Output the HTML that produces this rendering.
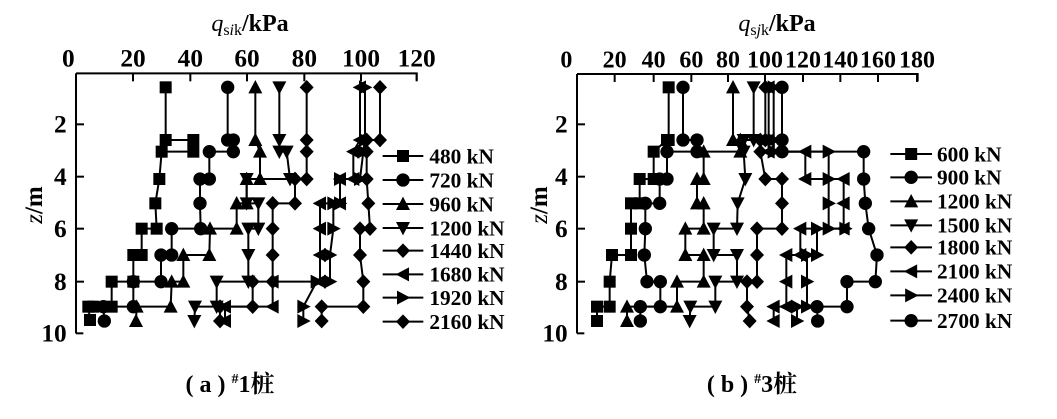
<!DOCTYPE html>
<html><head><meta charset="utf-8">
<style>
html,body{margin:0;padding:0;background:#fff;width:1057px;height:419px;overflow:hidden}
svg{display:block}
text{font-family:"Liberation Serif","Noto Serif CJK SC",serif;font-weight:bold;fill:#000}
</style></head><body>
<svg id="s" width="1057" height="419" viewBox="0 0 1057 419" xmlns="http://www.w3.org/2000/svg">
<g id="L" transform="scale(0.3333333)"></g>
<g id="R" transform="translate(527,0) scale(0.3333333)"></g>
<g>
<text x="250" y="31" font-size="24" text-anchor="middle"><tspan font-style="italic" font-weight="normal">q</tspan><tspan font-size="16" dy="4" font-weight="normal">s<tspan font-style="italic">i</tspan>k</tspan><tspan dy="-4">/kPa</tspan></text>
<text x="777" y="31" font-size="24" text-anchor="middle"><tspan font-style="italic" font-weight="normal">q</tspan><tspan font-size="16" dy="4" font-weight="normal">s<tspan font-style="italic">j</tspan>k</tspan><tspan dy="-4">/kPa</tspan></text>
<text transform="translate(42,205) rotate(-90)" font-size="25" text-anchor="middle"><tspan font-style="italic" font-weight="normal">z</tspan>/m</text>
<text x="230" y="392" font-size="24" text-anchor="middle">( a ) <tspan font-size="14" dy="-9">#</tspan><tspan dy="9">1桩</tspan></text>
<text x="752" y="392" font-size="24" text-anchor="middle">( b ) <tspan font-size="14" dy="-9">#</tspan><tspan dy="9">3桩</tspan></text>
</g>
</svg>
<script>
const NS="http://www.w3.org/2000/svg";
function el(p,t,a,txt){const e=document.createElementNS(NS,t);for(const k in a)e.setAttribute(k,a[k]);if(txt!==undefined)e.textContent=txt;p.appendChild(e);return e;}
function marker(g,type,x,y){const s=18;
 if(type=='sq')el(g,'rect',{x:x-s,y:y-s,width:2*s,height:2*s});
 else if(type=='ci')el(g,'circle',{cx:x,cy:y,r:s+2});
 else if(type=='up')el(g,'polygon',{points:`${x},${y-s-4} ${x-s-3},${y+s} ${x+s+3},${y+s}`});
 else if(type=='dn')el(g,'polygon',{points:`${x},${y+s+4} ${x-s-3},${y-s} ${x+s+3},${y-s}`});
 else if(type=='di')el(g,'polygon',{points:`${x},${y-s-4} ${x+s+3},${y} ${x},${y+s+4} ${x-s-3},${y}`});
 else if(type=='le')el(g,'polygon',{points:`${x-s-4},${y} ${x+s},${y-s-3} ${x+s},${y+s+3}`});
 else if(type=='ri')el(g,'polygon',{points:`${x+s+4},${y} ${x-s},${y-s-3} ${x-s},${y+s+3}`});
}
function chart(g,cfg,zl){
 el(g,'polyline',{points:`${cfg.ax},${cfg.ay} ${cfg.xe},${cfg.ay} ${cfg.xe},${cfg.ay+22}`,fill:'none',stroke:'#000','stroke-width':6});
 el(g,'line',{x1:cfg.ax,y1:cfg.ay,x2:cfg.ax,y2:1000,stroke:'#000','stroke-width':6});
 el(g,'line',{x1:cfg.ax,y1:1000,x2:cfg.ax+22,y2:1000,stroke:'#000','stroke-width':6});
 cfg.xt.forEach((x,i)=>{ if(i>0) el(g,'line',{x1:x,y1:cfg.ay,x2:x,y2:cfg.ay+24,stroke:'#000','stroke-width':6});
   el(g,'text',{x:x,y:cfg.ay-20,'font-size':cfg.fs,'text-anchor':'middle'},cfg.xl[i]);});
 [[373,'2'],[530,'4'],[686,'6'],[845,'8'],[1000,'10']].forEach(([y,t])=>{
   if(y<1000) el(g,'line',{x1:cfg.ax,y1:y,x2:cfg.ax+24,y2:y,stroke:'#000','stroke-width':6});
   el(g,'text',{x:cfg.ax-28,y:y+25,'font-size':76,'text-anchor':'end'},t);});
 if(zl){const t=el(g,'text',{transform:`translate(${zl},615) rotate(-90)`,'font-size':75,'text-anchor':'middle'});
   el(t,'tspan',{'font-style':'italic','font-weight':'normal'},'z');el(t,'tspan',{},'/m');}
 cfg.series.forEach((s,i)=>{
   el(g,'polyline',{points:s.p.map(a=>a.join(',')).join(' '),fill:'none',stroke:'#000','stroke-width':6});
   s.p.forEach(([x,y])=>marker(g,s.t,x,y));
   const ly=cfg.ly[i];
   el(g,'line',{x1:cfg.lx1,y1:ly,x2:cfg.lx2,y2:ly,stroke:'#000','stroke-width':6});
   marker(g,s.t,(cfg.lx1+cfg.lx2)/2,ly);
   el(g,'text',{x:cfg.tx,y:ly+22,'font-size':64},s.n);
 });
}
chart(document.getElementById('L'),{ax:228,ay:220,xe:1250,fs:76,
 xt:[205,399,571,741,913,1083,1250],xl:['0','20','40','60','80','100','120'],
 lx1:1148,lx2:1270,tx:1288,ly:[468,540,612,684,752,823,893,965],
 series:[
 {t:'sq',n:'480 kN',p:[[497,262],[497,420],[580,420],[580,455],[485,455],[478,537],[466,610],[470,686],[425,686],[425,765],[400,765],[400,845],[335,845],[335,920],[280,920],[265,920],[270,960]]},
 {t:'ci',n:'720 kN',p:[[683,262],[683,420],[700,420],[700,455],[628,455],[628,537],[600,537],[600,610],[602,686],[515,686],[515,765],[483,765],[483,845],[400,845],[400,920],[310,920],[313,963]]},
 {t:'up',n:'960 kN',p:[[766,262],[766,420],[780,455],[780,537],[740,537],[740,610],[710,610],[710,686],[630,686],[628,765],[550,765],[550,845],[515,845],[512,920],[410,920],[408,963]]},
 {t:'dn',n:'1200 kN',p:[[838,262],[838,420],[838,455],[860,455],[870,537],[740,537],[740,610],[775,610],[775,686],[745,686],[745,765],[745,845],[650,845],[650,920],[585,920],[583,963]]},
 {t:'di',n:'1440 kN',p:[[920,262],[920,420],[920,455],[920,537],[885,537],[885,610],[818,610],[818,686],[818,765],[818,845],[758,845],[758,920],[660,920],[660,963]]},
 {t:'le',n:'1680 kN',p:[[1080,262],[1080,420],[1060,455],[1060,537],[1020,537],[1020,610],[960,610],[960,686],[960,765],[960,845],[818,845],[818,920],[675,920],[675,963]]},
 {t:'ri',n:'1920 kN',p:[[1095,262],[1095,420],[1090,455],[1080,537],[1020,537],[1020,610],[1000,610],[1000,686],[990,765],[990,845],[950,845],[910,920],[910,963]]},
 {t:'di',n:'2160 kN',p:[[1140,262],[1140,420],[1100,420],[1100,455],[1100,537],[1105,610],[1110,686],[1080,686],[1080,765],[1090,845],[1090,920],[965,920],[965,963]]}
 ]},0);
chart(document.getElementById('R'),{ax:150,ay:222,xe:1172,fs:72,
 xt:[118,263,380,493,603,714,828,940,1053,1170],xl:['0','20','40','60','80','100','120','140','160','180'],
 lx1:1090,lx2:1215,tx:1230,ly:[462,532,604,676,742,814,886,962],
 series:[
 {t:'sq',n:'600 kN',p:[[425,262],[425,420],[420,420],[380,455],[380,537],[338,537],[338,610],[312,610],[312,686],[312,765],[255,765],[248,845],[248,920],[210,920],[210,963]]},
 {t:'ci',n:'900 kN',p:[[468,262],[468,420],[510,420],[510,455],[420,455],[420,537],[398,537],[398,610],[355,610],[355,686],[352,765],[360,845],[400,845],[400,920],[340,920],[340,963]]},
 {t:'up',n:'1200 kN',p:[[618,262],[618,420],[640,420],[640,455],[530,455],[530,537],[510,537],[510,610],[530,610],[530,686],[475,686],[475,765],[530,765],[530,845],[450,845],[450,920],[300,920],[300,963]]},
 {t:'dn',n:'1500 kN',p:[[680,262],[680,420],[650,420],[650,455],[655,537],[632,610],[630,686],[560,686],[560,765],[630,765],[630,845],[565,845],[565,920],[490,920],[488,963]]},
 {t:'di',n:'1800 kN',p:[[715,262],[715,420],[700,420],[700,455],[715,537],[765,537],[765,610],[765,686],[690,686],[690,765],[690,845],[660,845],[660,920],[668,963]]},
 {t:'le',n:'2100 kN',p:[[725,262],[725,420],[725,455],[835,455],[835,537],[950,537],[950,610],[950,686],[820,686],[820,765],[778,765],[778,845],[778,920],[740,920],[740,963]]},
 {t:'ri',n:'2400 kN',p:[[740,262],[740,420],[740,455],[905,455],[905,537],[905,610],[905,686],[955,686],[870,686],[870,765],[840,765],[840,845],[840,920],[810,920],[810,963]]},
 {t:'ci',n:'2700 kN',p:[[765,262],[765,420],[765,455],[1010,455],[1010,537],[1015,610],[1025,686],[1050,765],[1045,845],[960,845],[960,920],[870,920],[872,963]]}
 ]},60);
</script>
</body></html>
